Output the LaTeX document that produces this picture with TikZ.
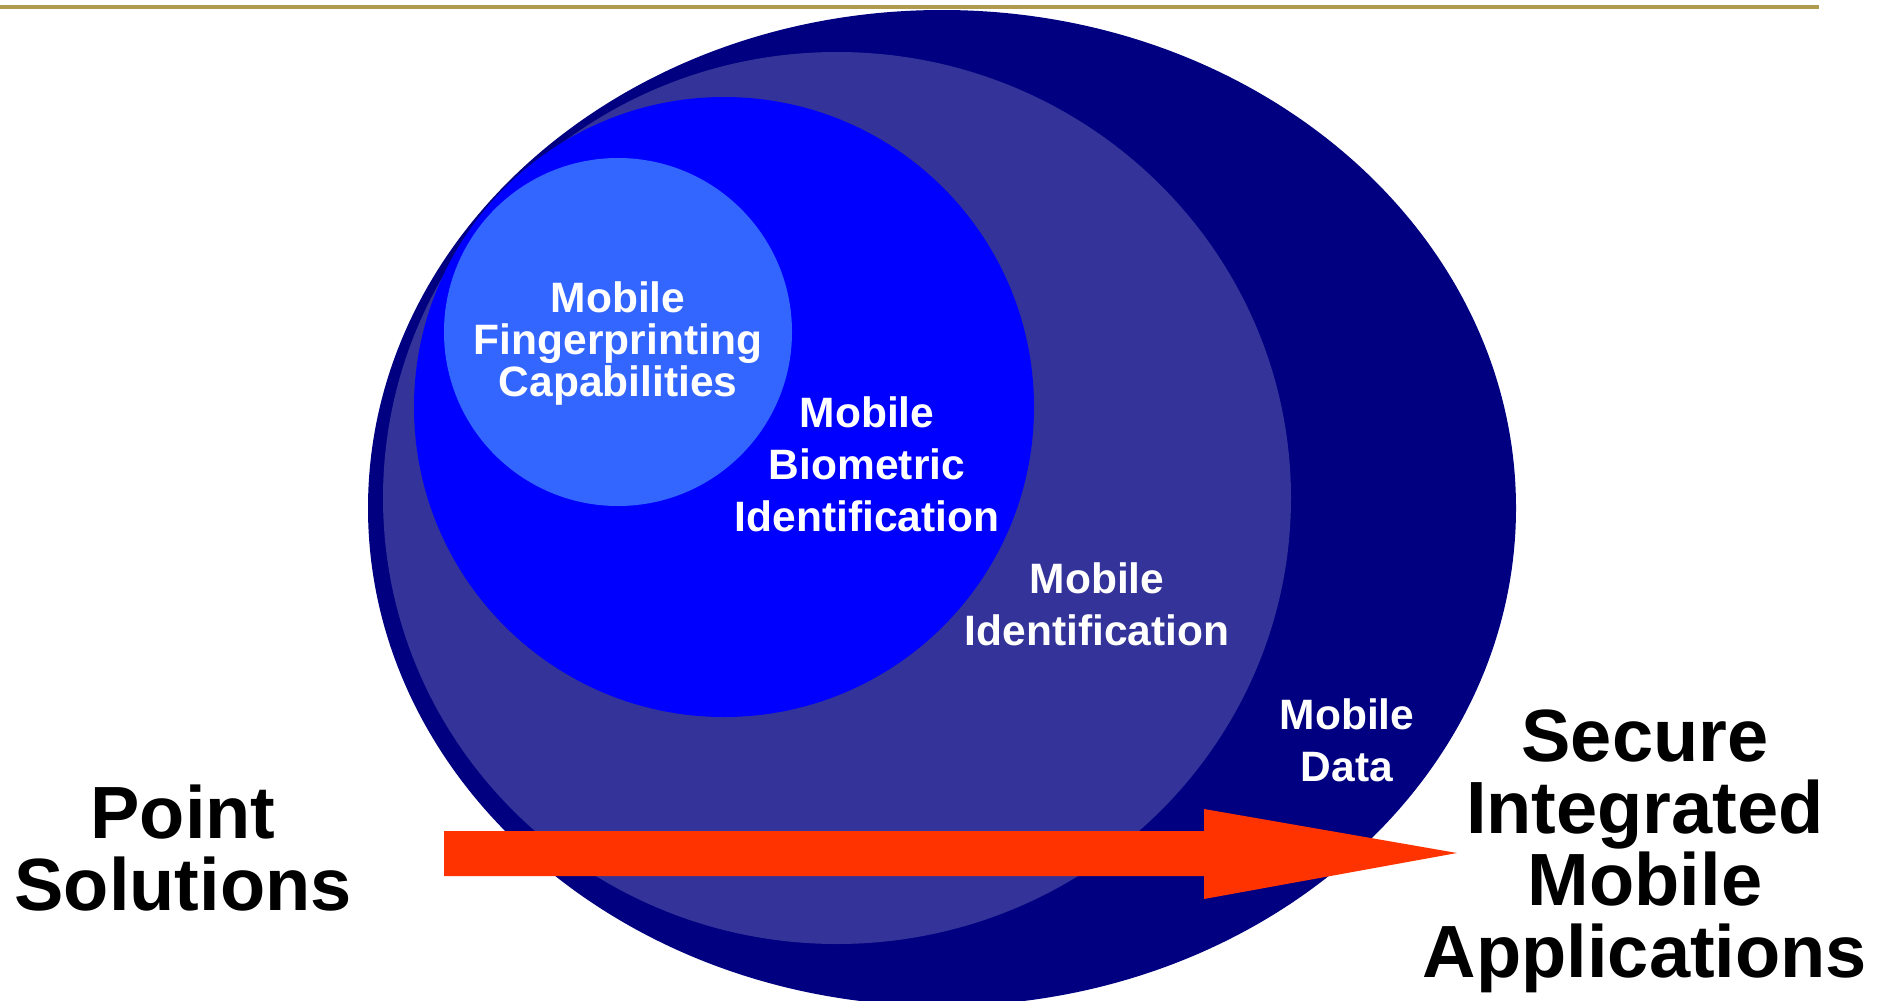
\documentclass[tikz,border=0pt]{standalone}
\usepackage{fontspec}
\setmainfont{Liberation Sans}
\begin{document}
\begin{tikzpicture}[x=1pt,y=-1pt,
  ringtext/.style={text=white,font=\bfseries\fontsize{42.5}{52}\selectfont,align=center,inner sep=0pt},
  tightringtext/.style={ringtext,font=\bfseries\fontsize{42.5}{42}\selectfont},
  bigtext/.style={text=black,font=\bfseries\fontsize{74}{72}\selectfont,align=center,inner sep=0pt}]
\definecolor{navyring}{HTML}{000080}
\definecolor{midring}{HTML}{333399}
\definecolor{bluering}{HTML}{0000FF}
\definecolor{lightring}{HTML}{3366FF}
\definecolor{arroworange}{HTML}{FF3300}
\definecolor{goldline}{HTML}{B09A4E}
\useasboundingbox (0,0) rectangle (1891,1001);
\clip (0,0) rectangle (1891,1001);
% rings
\fill[navyring] (942,508) ellipse [x radius=574pt, y radius=498pt];
\fill[midring] (837,498) ellipse [x radius=454pt, y radius=446pt];
\fill[bluering] (724,407) circle [radius=310pt];
\fill[lightring] (618,332) circle [radius=174pt];
% top rule
\draw[goldline,line width=4pt] (0,7) -- (1819,7);
% arrow
\coordinate (arrowtail) at (444,853);
\coordinate (arrowtip) at (1457,853);
\fill[arroworange] (arrowtail) ++(0,-22) -- (1204,831) -- (1204,809) -- (arrowtip) -- (1204,899) -- (1204,876) -- (444,876) -- cycle;
% labels
\node[tightringtext] (fp) at (618,344) {Mobile\\Fingerprinting\\Capabilities};
\node[ringtext] (bio) at (867,464) {Mobile\\Biometric\\Identification};
\node[ringtext] (ident) at (1097,604) {Mobile\\Identification};
\node[ringtext] (data) at (1347,740) {Mobile\\Data};
\node[bigtext] (point) at (183,848) {Point\\Solutions};
\node[bigtext] (secure) at (1645,851) {Secure\\Integrated\\Mobile\\Applications};
\end{tikzpicture}
\end{document}
